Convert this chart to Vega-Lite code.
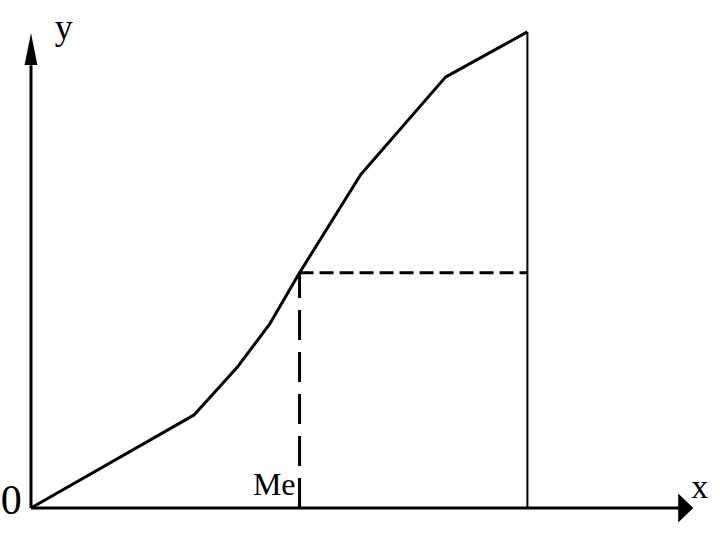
{
  "$schema": "https://vega.github.io/schema/vega-lite/v6.json",
  "width": 720,
  "height": 540,
  "autosize": {"type": "fit", "contains": "padding"},
  "padding": 0,
  "background": "white",
  "config": {"view": {"stroke": null}},
  "datasets": {
    "curve": [
      {"x": 0, "y": 0},
      {"x": 32.8, "y": 19.5},
      {"x": 41.5, "y": 29.5},
      {"x": 48.0, "y": 38.5},
      {"x": 54.1, "y": 49.4},
      {"x": 66.4, "y": 70.0},
      {"x": 83.5, "y": 90.5},
      {"x": 100, "y": 100}
    ],
    "segments": [
      {"part": "xaxis", "x": 0, "y": 0, "x2": 130.5, "y2": 0},
      {"part": "yaxis", "x": 0, "y": 0, "x2": 0, "y2": 93},
      {"part": "right", "x": 100, "y": 0, "x2": 100, "y2": 100},
      {"part": "medh", "x": 54.1, "y": 49.4, "x2": 100, "y2": 49.4},
      {"part": "medv", "x": 54.1, "y": 0, "x2": 54.1, "y2": 49.4}
    ],
    "arrows": [
      {"dir": "up", "x": 0, "y": 96.4},
      {"dir": "right", "x": 131.9, "y": 0}
    ],
    "labels": [
      {"label": "y", "x": 6.6, "y": 98.5},
      {"label": "x", "x": 134.7, "y": 2.1},
      {"label": "0", "x": -4.0, "y": -1.2},
      {"label": "Me", "x": 44.7, "y": 2.7}
    ]
  },
  "encoding": {
    "x": {"field": "x", "type": "quantitative", "axis": null, "scale": {"domain": [-6.04, 138.8], "nice": false, "zero": false}},
    "y": {"field": "y", "type": "quantitative", "axis": null, "scale": {"domain": [-6.72, 106.7], "nice": false, "zero": false}}
  },
  "layer": [
    {
      "data": {"name": "segments"},
      "transform": [{"filter": "datum.part === 'xaxis' || datum.part === 'yaxis'"}],
      "mark": {"type": "rule", "color": "black", "strokeWidth": 3},
      "encoding": {"x2": {"field": "x2"}, "y2": {"field": "y2"}}
    },
    {
      "data": {"name": "segments"},
      "transform": [{"filter": "datum.part === 'right'"}],
      "mark": {"type": "rule", "color": "black", "strokeWidth": 2},
      "encoding": {"x2": {"field": "x2"}, "y2": {"field": "y2"}}
    },
    {
      "data": {"name": "segments"},
      "transform": [{"filter": "datum.part === 'medh'"}],
      "mark": {"type": "rule", "color": "black", "strokeWidth": 3, "strokeDash": [14, 6]},
      "encoding": {"x2": {"field": "x2"}, "y2": {"field": "y2"}}
    },
    {
      "data": {"name": "segments"},
      "transform": [{"filter": "datum.part === 'medv'"}],
      "mark": {"type": "rule", "color": "black", "strokeWidth": 3, "strokeDash": [30, 12]},
      "encoding": {"x2": {"field": "x2"}, "y2": {"field": "y2"}}
    },
    {
      "data": {"name": "curve"},
      "mark": {"type": "line", "color": "black", "strokeWidth": 3, "strokeJoin": "round"}
    },
    {
      "data": {"name": "arrows"},
      "transform": [{"filter": "datum.dir === 'up'"}],
      "mark": {"type": "point", "filled": true, "color": "black", "opacity": 1, "strokeWidth": 0, "size": 1024, "shape": "M0,-1L0.4,1L-0.4,1Z"}
    },
    {
      "data": {"name": "arrows"},
      "transform": [{"filter": "datum.dir === 'right'"}],
      "mark": {"type": "point", "filled": true, "color": "black", "opacity": 1, "strokeWidth": 0, "size": 841, "shape": "M0.52,0L-0.52,-1L-0.52,1Z"}
    },
    {
      "data": {"name": "labels"},
      "transform": [{"filter": "datum.label === 'y'"}],
      "mark": {"type": "text", "font": "Liberation Serif", "fontSize": 36, "align": "center", "baseline": "alphabetic", "color": "black"},
      "encoding": {"text": {"field": "label"}}
    },
    {
      "data": {"name": "labels"},
      "transform": [{"filter": "datum.label === 'x'"}],
      "mark": {"type": "text", "font": "Liberation Serif", "fontSize": 34, "align": "center", "baseline": "alphabetic", "color": "black"},
      "encoding": {"text": {"field": "label"}}
    },
    {
      "data": {"name": "labels"},
      "transform": [{"filter": "datum.label === '0'"}],
      "mark": {"type": "text", "font": "Liberation Serif", "fontSize": 42, "align": "center", "baseline": "alphabetic", "color": "black"},
      "encoding": {"text": {"field": "label"}}
    },
    {
      "data": {"name": "labels"},
      "transform": [{"filter": "datum.label === 'Me'"}],
      "mark": {"type": "text", "font": "Liberation Serif", "fontSize": 32, "align": "left", "baseline": "alphabetic", "color": "black"},
      "encoding": {"text": {"field": "label"}}
    }
  ]
}
